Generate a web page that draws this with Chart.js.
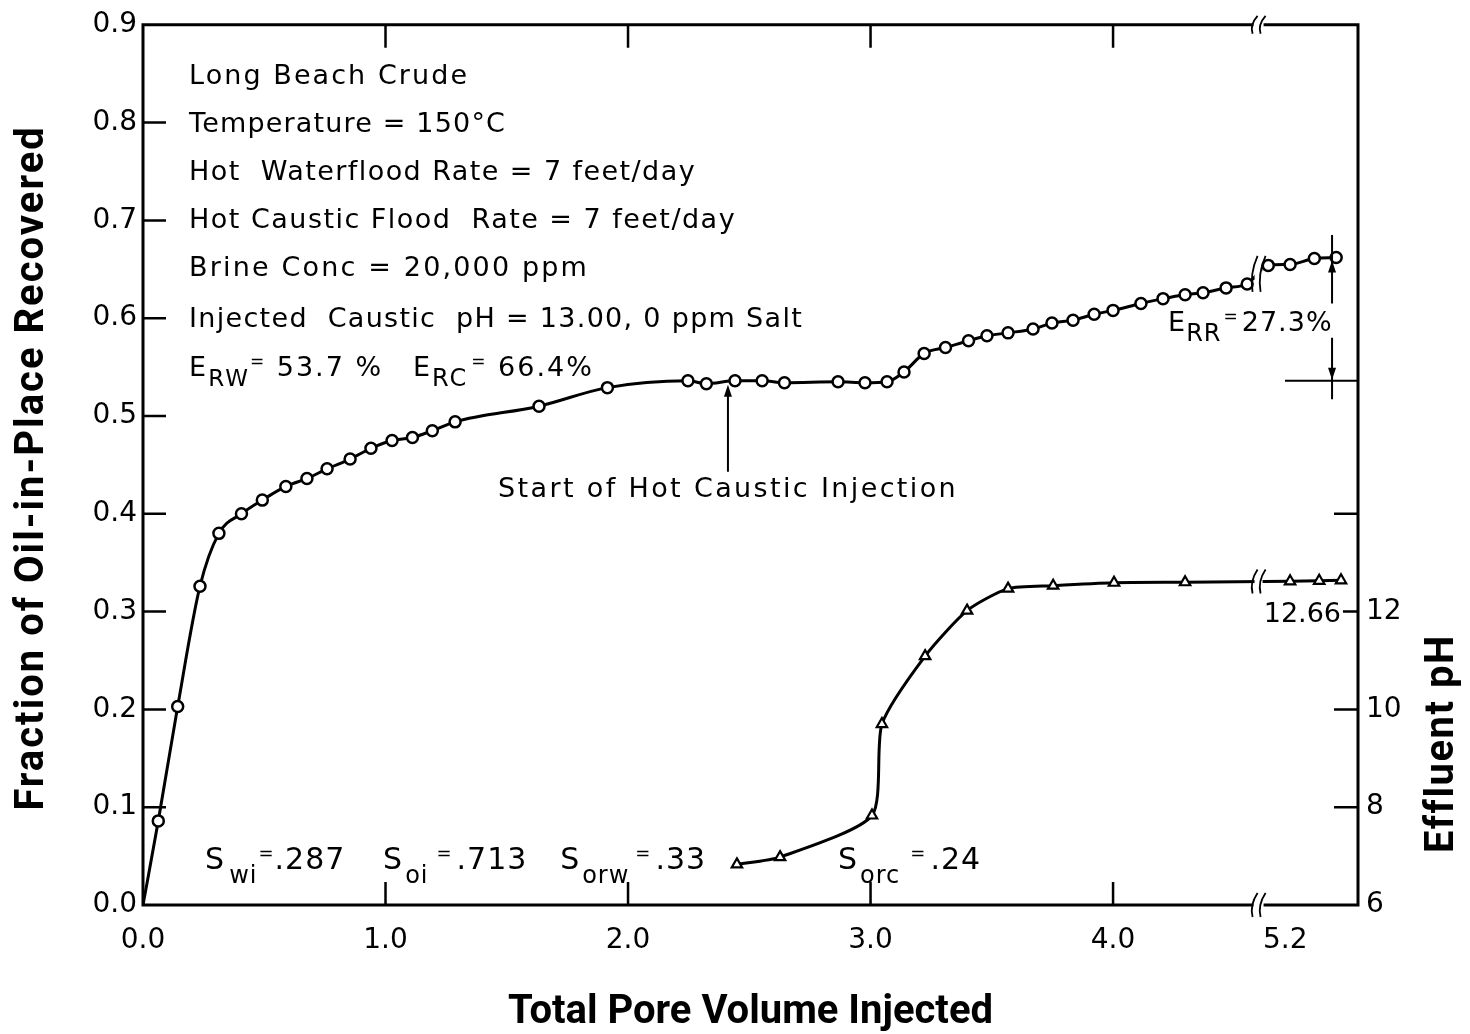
<!DOCTYPE html>
<html>
<head>
<meta charset="utf-8">
<script src="https://cdn.jsdelivr.net/npm/chart.js@4"></script>
<style>
html,body{margin:0;padding:0;background:#fff;}
#wrap{width:1470px;height:1034px;position:relative;}
</style>
</head>
<body>
<div id="wrap"><canvas id="c"></canvas></div>
<script>
// ---------------- data ----------------
// Oil recovery curve: total pore volume injected (real PV) and fraction of OIP recovered
const recoveryPV = [0, 0.063, 0.143, 0.235, 0.313, 0.406, 0.492, 0.589, 0.676, 0.759,
  0.854, 0.940, 1.027, 1.111, 1.193, 1.287, 1.633, 1.915, 2.247, 2.323,
  2.441, 2.553, 2.645, 2.866, 2.977, 3.068, 3.138, 3.221, 3.309, 3.404,
  3.480, 3.567, 3.670, 3.748, 3.835, 3.922, 4.000, 4.115, 4.206, 4.297,
  4.371, 4.466, 4.553, 5.13, 5.22, 5.32, 5.41];
const recoveryFrac = [0, 0.086, 0.203, 0.326, 0.380, 0.400, 0.414, 0.428, 0.436, 0.446,
  0.456, 0.467, 0.475, 0.478, 0.485, 0.494, 0.510, 0.529, 0.536, 0.533,
  0.536, 0.536, 0.534, 0.535, 0.534, 0.535, 0.545, 0.564, 0.570, 0.577,
  0.582, 0.585, 0.589, 0.595, 0.598, 0.604, 0.608, 0.615, 0.620, 0.624,
  0.626, 0.631, 0.635, 0.654, 0.655, 0.661, 0.662];
// Effluent pH curve
const phPV = [2.449, 2.627, 3.006, 3.047, 3.225, 3.398, 3.567, 3.753, 4.004, 4.297, 5.22, 5.34, 5.43];
const phValues = [6.83, 6.98, 7.83, 9.70, 11.09, 12.02, 12.47, 12.53, 12.59, 12.60, 12.62, 12.63, 12.64];

// tick labels
const xTickValues = [0, 1, 2, 3, 4, 5.2];
const xTickLabels = ['0.0', '1.0', '2.0', '3.0', '4.0', '5.2'];
const pHTickLabels = ['6', '8', '10', '12'];
const xInnerTicks = [1, 2, 3, 4];
const yInnerTicks = [0.1, 0.2, 0.3, 0.4, 0.5, 0.6, 0.7, 0.8];
const pHInnerTicks = [8, 10, 12, 14];

// text
const infoLines = ['Long Beach Crude', 'Temperature = 150°C', 'Hot  Waterflood Rate = 7 feet/day',
  'Hot Caustic Flood  Rate = 7 feet/day', 'Brine Conc = 20,000 ppm',
  'Injected  Caustic  pH = 13.00, 0 ppm Salt'];

// axis break: PV values beyond the break are drawn shifted left
const X_BREAK = 4.60;   // axis position of the break
const X_SHIFT = 0.49;   // PV skipped by the break
function toAxis(v) { return v > X_BREAK ? v - X_SHIFT : v; }

const FONTFAM = '"DejaVu Sans", sans-serif';
const TITLEFONT = 'Roboto';

function fitText(ctx, text, x, y, width, size) {
  ctx.font = size + 'px ' + FONTFAM;
  ctx.letterSpacing = '0px';
  const w = ctx.measureText(text).width;
  const n = [...text].length;
  ctx.letterSpacing = ((width - w) / n) + 'px';
  ctx.fillText(text, x, y);
  ctx.letterSpacing = '0px';
}
function rich(ctx, x, y, parts, spacing) {
  ctx.letterSpacing = spacing + 'px';
  let cx = x;
  for (const [t, size, dy, dx] of parts) {
    cx += dx || 0;
    ctx.font = size + 'px ' + FONTFAM;
    ctx.fillText(t, cx, y + dy);
    cx += ctx.measureText(t).width;
  }
  ctx.letterSpacing = '0px';
}
function breakMark(ctx, cx, cy, h) {
  ctx.save();
  ctx.fillStyle = '#fff';
  ctx.fillRect(cx - 4, cy - 5, 8, 10);
  ctx.restore();
  ctx.lineWidth = 1.8;
  for (const dx of [-4, 4]) {
    ctx.beginPath();
    ctx.moveTo(cx + dx + 3, cy - h);
    ctx.quadraticCurveTo(cx + dx - 5, cy, cx + dx - 2, cy + h);
    ctx.stroke();
  }
}
function arrowHead(ctx, x, y, dir) { // dir -1 up, +1 down; tip at (x,y)
  ctx.beginPath();
  ctx.moveTo(x, y);
  ctx.lineTo(x - 4, y - dir * 12);
  ctx.lineTo(x + 4, y - dir * 12);
  ctx.closePath();
  ctx.fill();
}
function vTitle(ctx, text, x, y, spacing) {
  ctx.save();
  ctx.font = 'bold 40px ' + TITLEFONT;
  ctx.letterSpacing = spacing + 'px';
  ctx.textAlign = 'center';
  ctx.textBaseline = 'middle';
  ctx.translate(x, y);
  ctx.rotate(-Math.PI / 2);
  ctx.fillText(text, 0, 0);
  ctx.restore();
}

const decor = {
  id: 'decor',
  beforeDraw(chart) {
    const c = chart.ctx;
    c.save(); c.fillStyle = '#fff'; c.fillRect(0, 0, chart.width, chart.height); c.restore();
  },
  afterDraw(chart) {
    const { ctx, chartArea: a, scales } = chart;
    const sx = v => scales.x.getPixelForValue(v);
    const sy = v => scales.y.getPixelForValue(v);
    const sp = v => scales.y2.getPixelForValue(v);
    const bx = sx(X_BREAK);
    ctx.save();
    ctx.strokeStyle = '#000';
    ctx.fillStyle = '#000';

    // frame with break gaps
    ctx.lineWidth = 3;
    ctx.beginPath();
    ctx.moveTo(a.left, a.top - 1.5); ctx.lineTo(a.left, a.bottom + 1.5);
    ctx.moveTo(a.right, a.top - 1.5); ctx.lineTo(a.right, a.bottom + 1.5);
    [a.top, a.bottom].forEach(yy => {
      ctx.moveTo(a.left, yy); ctx.lineTo(bx - 5, yy);
      ctx.moveTo(bx + 5, yy); ctx.lineTo(a.right, yy);
    });
    ctx.stroke();

    // inward ticks
    ctx.lineWidth = 2.5;
    ctx.beginPath();
    xInnerTicks.forEach(v => {
      const p = sx(v);
      ctx.moveTo(p, a.bottom); ctx.lineTo(p, a.bottom - 23);
      ctx.moveTo(p, a.top); ctx.lineTo(p, a.top + 23);
    });
    yInnerTicks.forEach(v => { const p = sy(v); ctx.moveTo(a.left, p); ctx.lineTo(a.left + 23, p); });
    pHInnerTicks.forEach(v => { const p = sp(v); ctx.moveTo(a.right, p); ctx.lineTo(a.right - (v === 12 ? 15 : 24), p); });
    ctx.stroke();

    // break marks on axes and curves
    breakMark(ctx, bx, a.bottom, 12);
    breakMark(ctx, bx, a.top, 9);
    [[0, 18], [1, 12]].forEach(([di, h]) => {
      const meta = chart.getDatasetMeta(di);
      const src = di === 0 ? recoveryPV : phPV;
      const i = src.findIndex(v => v > X_BREAK);
      const p0 = meta.data[i - 1], p1 = meta.data[i];
      const t = (bx - p0.x) / (p1.x - p0.x);
      breakMark(ctx, bx, p0.y + t * (p1.y - p0.y), h);
    });

    // info text block
    ctx.textAlign = 'left';
    ctx.textBaseline = 'alphabetic';
    const infoY = [0.839, 0.790, 0.741, 0.692, 0.643, 0.591];
    const infoW = [280, 317, 507, 547, 400, 614];
    infoLines.forEach((t, i) => fitText(ctx, t, sx(0.19), sy(infoY[i]), infoW[i], 27));
    rich(ctx, sx(0.19), sy(0.541), [['E', 27, 0], ['RW', 23, 10], ['=', 17, -9], [' 53.7 %', 27, 0]], 2);
    rich(ctx, sx(1.113), sy(0.541), [['E', 27, 0], ['RC', 24, 10], ['=', 17, -9, 3], [' 66.4%', 27, 0]], 2);

    // start of caustic injection
    fitText(ctx, 'Start of Hot Caustic Injection', sx(1.464), sy(0.417), 460, 27);
    ctx.lineWidth = 2;
    ctx.beginPath();
    ctx.moveTo(sx(2.412), sy(0.443)); ctx.lineTo(sx(2.412), sy(0.524));
    ctx.stroke();
    arrowHead(ctx, sx(2.412), sy(0.532), -1);

    // E_RR annotation
    rich(ctx, sx(4.227), sy(0.587), [['E', 27, 0], ['RR', 24, 10], ['=', 17, -9, 2], ['27.3%', 27, 0, 3]], 1);
    const ex = sx(4.903);
    ctx.lineWidth = 2;
    ctx.beginPath();
    ctx.moveTo(ex, sy(0.685)); ctx.lineTo(ex, sy(0.615));
    ctx.moveTo(ex, sy(0.580)); ctx.lineTo(ex, sy(0.517));
    ctx.moveTo(sx(4.709), sy(0.536)); ctx.lineTo(a.right, sy(0.536));
    ctx.stroke();
    arrowHead(ctx, ex, sy(0.659), -1);
    arrowHead(ctx, ex, sy(0.537), 1);

    // saturations
    const sBase = sy(0.0366);
    rich(ctx, sx(0.256), sBase, [['S', 30, 0], ['wi', 24, 14, 4], ['=', 18, -10, 1], ['.287', 30, 0]], 1);
    rich(ctx, sx(0.990), sBase, [['S', 30, 0], ['oi', 24, 14, 2], ['=', 18, -10, 8], ['.713', 30, 0, 4]], 1);
    rich(ctx, sx(1.720), sBase, [['S', 30, 0], ['orw', 24, 14, 2], ['=', 18, -10, 6], ['.33', 30, 0, 4]], 1);
    rich(ctx, sx(2.866), sBase, [['S', 30, 0], ['orc', 24, 14, 2], ['=', 18, -10, 10], ['.24', 30, 0, 4]], 1);

    // final pH label
    ctx.textAlign = 'right';
    ctx.textBaseline = 'middle';
    ctx.font = '27px ' + FONTFAM;
    ctx.fillText('12.66', sx(4.94), sp(11.94));

    // axis titles (vertical)
    vTitle(ctx, 'Fraction of Oil-in-Place Recovered', 33, (a.top + a.bottom) / 2 + 3, 2);
    vTitle(ctx, 'Effluent pH', a.right + 85, sp(9.3), 1.5);

    ctx.restore();
  }
};

const tickFont = { family: FONTFAM, size: 28 };
const titleFont = { family: TITLEFONT, weight: 'bold', size: 40 };

new Chart(document.getElementById('c'), {
  type: 'line',
  data: {
    datasets: [
      {
        label: 'Fraction of Oil-in-Place Recovered',
        data: recoveryPV.map((v, i) => ({ x: toAxis(v), y: recoveryFrac[i] })),
        yAxisID: 'y',
        borderColor: '#000', borderWidth: 3, fill: false,
        cubicInterpolationMode: 'monotone',
        pointStyle: 'circle',
        pointRadius: c => (c.dataIndex === 0 ? 0 : 5.5),
        pointBorderWidth: 2.5, pointBackgroundColor: '#fff', pointBorderColor: '#000'
      },
      {
        label: 'Effluent pH',
        data: phPV.map((v, i) => ({ x: toAxis(v), y: phValues[i] })),
        yAxisID: 'y2',
        borderColor: '#000', borderWidth: 3, fill: false,
        tension: 0.22,
        pointStyle: 'triangle', pointRadius: 6,
        pointBorderWidth: 2.2, pointBackgroundColor: '#fff', pointBorderColor: '#000'
      }
    ]
  },
  options: {
    responsive: true, maintainAspectRatio: false, animation: false, devicePixelRatio: 1,
    layout: { padding: { top: 20, left: 0, right: 0, bottom: 0 } },
    plugins: { legend: { display: false }, tooltip: { enabled: false } },
    scales: {
      x: {
        type: 'linear', position: 'bottom', min: 0, max: 5.01,
        grid: { display: false, drawTicks: false }, border: { display: false },
        afterBuildTicks: s => { s.ticks = xTickValues.map(v => ({ value: toAxis(v) })); },
        afterFit: s => { s.height = 129; },
        ticks: { autoSkip: false, maxRotation: 0, padding: 19, color: '#000', font: tickFont,
                 callback: (v, i) => xTickLabels[i] },
        title: { display: true, text: 'Total Pore Volume Injected', color: '#000', font: titleFont,
                 padding: { top: 0, bottom: -3 } }
      },
      y: {
        type: 'linear', position: 'left', min: 0, max: 0.9,
        grid: { display: false, drawTicks: false }, border: { display: false },
        afterFit: s => { s.width = 143; },
        ticks: { stepSize: 0.1, padding: 6, color: '#000', font: tickFont, callback: v => v.toFixed(1) }
      },
      y2: {
        type: 'linear', position: 'right', min: 6, max: 24,
        grid: { display: false, drawTicks: false }, border: { display: false },
        afterFit: s => { s.width = 112; },
        ticks: { stepSize: 2, padding: 8, color: '#000', font: tickFont,
                 callback: v => (pHTickLabels.includes(String(v)) ? String(v) : '') }
      }
    }
  },
  plugins: [decor]
});
</script>
</body>
</html>
